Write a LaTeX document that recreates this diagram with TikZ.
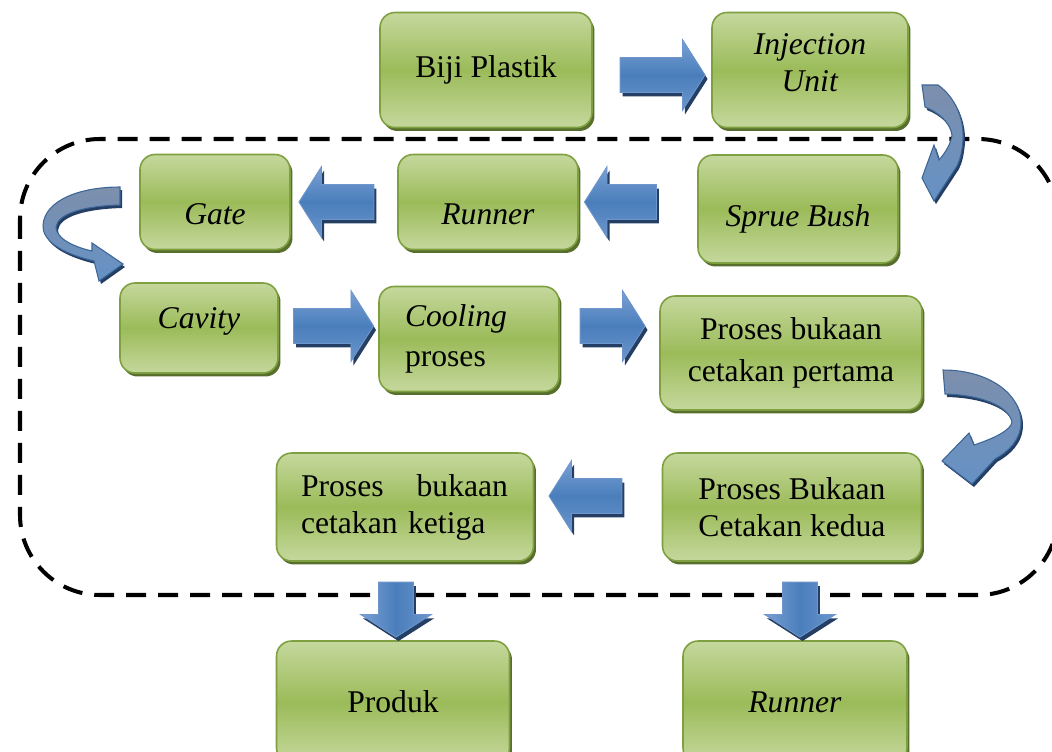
\documentclass[tikz,border=0pt]{standalone}
\usepackage{fontspec}
\setmainfont{Liberation Serif}
\usetikzlibrary{shapes.arrows,shadows}

\definecolor{boxlight}{RGB}{197,216,157}
\definecolor{boxmid}{RGB}{155,187,89}
\definecolor{boxline}{RGB}{127,160,65}
\definecolor{boxshadow}{RGB}{88,110,44}
\definecolor{arrowlight}{RGB}{122,160,212}
\definecolor{arrowmid}{RGB}{74,126,187}
\definecolor{arrowline}{RGB}{110,150,205}
\definecolor{arrowshadow}{RGB}{36,62,100}
\definecolor{curveback}{RGB}{125,143,172}

\begin{document}
\begin{tikzpicture}[x=0.02cm, y=-0.02cm,
            box/.style={rectangle, rounded corners=0.3cm, draw=boxline, line width=0.9pt, top color=boxlight, bottom color=boxlight, middle color=boxmid, drop shadow={shadow xshift=0.05cm, shadow yshift=-0.07cm, fill=boxshadow, opacity=1}, inner sep=0pt, font=\fontsize{18}{21}\selectfont, align=center},
            blockarrow/.style={single arrow, single arrow head extend=0.36cm, single arrow tip angle=115, inner sep=0.34cm, draw=arrowline, line width=0.5pt, top color=arrowlight, bottom color=arrowlight!70!arrowmid, middle color=arrowmid, drop shadow={shadow xshift=0.05cm, shadow yshift=-0.08cm, fill=arrowshadow, opacity=1}},
            bendarrow/.style={draw=arrowmid!80!black, line width=0.6pt, top color=curveback, bottom color=arrowmid!85!white, drop shadow={shadow xshift=0.04cm, shadow yshift=-0.06cm, fill=arrowshadow, opacity=1}},
            boundary/.style={draw, dashed, dash pattern=on 0.4cm off 0.24cm, line width=2.3pt, rounded corners=1.6cm}
        ]
            \useasboundingbox (0,0) rectangle (1052,751);
            \clip (0,0) rectangle (1052,751);

            % Mould area
            \draw[boundary] (20,139) rectangle (1058,595);

            % Top row
            \node[box, minimum width=4.24cm, minimum height=2.3cm] (biji) at (486,70) {Biji Plastik};
            \node[box, minimum width=3.92cm, minimum height=2.3cm, text depth=8pt] (inject) at (810,70) {\textit{Injection}\\\textit{Unit}};

            % Second row
            \node[box, minimum width=3cm, minimum height=1.9cm, text height=26pt, text depth=0pt] (gate) at (215,202) {\textit{Gate}};
            \node[box, minimum width=3.6cm, minimum height=1.9cm, text height=26pt, text depth=0pt] (runner) at (488,202) {\textit{Runner}};
            \node[box, minimum width=4cm, minimum height=2.16cm, text height=20pt, text depth=0pt] (sprue) at (798,209) {\textit{Sprue Bush}};

            % Third row
            \node[box, minimum width=3.16cm, minimum height=1.8cm, text height=12pt, text depth=11pt] (cavity) at (199,328) {\textit{Cavity}};
            \node[box, minimum width=3.6cm, minimum height=2.1cm, text width=2.56cm, align=left, font=\fontsize{18}{23}\selectfont] (cooling) at (469,339) {\textit{Cooling}\\proses};
            \node[box, minimum width=5.24cm, minimum height=2.28cm, font=\fontsize{18}{24}\selectfont] (pertama) at (791,353) {Proses bukaan\\cetakan pertama};

            % Fourth row
            \node[box, minimum width=5.14cm, minimum height=2.16cm, text width=4.16cm, align=left] (ketiga) at (405,507) {\makebox[4.14cm][l]{Proses\hfill bukaan}\\cetakan ketiga};
            \node[box, minimum width=5.18cm, minimum height=2.16cm] (kedua) at (792,507) {Proses Bukaan\\Cetakan kedua};

            % Outputs
            \node[box, minimum width=4.66cm, minimum height=2.44cm] (produk) at (393,702) {Produk};
            \node[box, minimum width=4.48cm, minimum height=2.44cm] (runnerout) at (795,702) {\textit{Runner}};

            % Straight arrows
            \node[blockarrow, minimum height=1.7cm] (a1) at (657,75) {};
            \node[blockarrow, minimum height=1.5cm, shape border rotate=180] (a2) at (342,202) {};
            \node[blockarrow, minimum height=1.44cm, shape border rotate=180] (a3) at (626,202) {};
            \node[blockarrow, minimum height=1.6cm] (a4) at (328,326) {};
            \node[blockarrow, minimum height=1.3cm] (a5) at (607,326) {};
            \node[blockarrow, minimum height=1.46cm, shape border rotate=180] (a6) at (591,496) {};
            \node[blockarrow, minimum height=1.1cm, shape border rotate=270, shading angle=90] (a7) at (396,604) {};
            \node[blockarrow, minimum height=1.1cm, shape border rotate=270, shading angle=90] (a8) at (800,604) {};

            % Curved arrows
            \path[bendarrow] (922,85) -- (938,85) .. controls (955,97) and (964,118) .. (963,140) .. controls (962,152) and (960,160) .. (957,166) -- (934,201) -- (922,178) -- (934,145) -- (939,160) .. controls (946,152) and (951,143) .. (952,135) .. controls (950,122) and (938,112) .. (925,107) -- cycle;
            \path[bendarrow] (120,187) .. controls (80,187) and (45,200) .. (43,225) .. controls (42,240) and (60,253) .. (94,261) -- (99,281) -- (123,264) -- (92,243) -- (92,251) .. controls (70,246) and (56,237) .. (56,227) .. controls (58,213) and (85,206) .. (120,205) -- cycle;
            \path[bendarrow] (943,370) .. controls (990,370) and (1021,395) .. (1021,422) .. controls (1021,440) and (1008,452) .. (995,459) -- (972,484) -- (942,461) -- (969,433) -- (974,445) .. controls (995,438) and (1011,430) .. (1012,422) .. controls (1008,405) and (980,395) .. (945,394) -- cycle;

        \end{tikzpicture}
\end{document}
